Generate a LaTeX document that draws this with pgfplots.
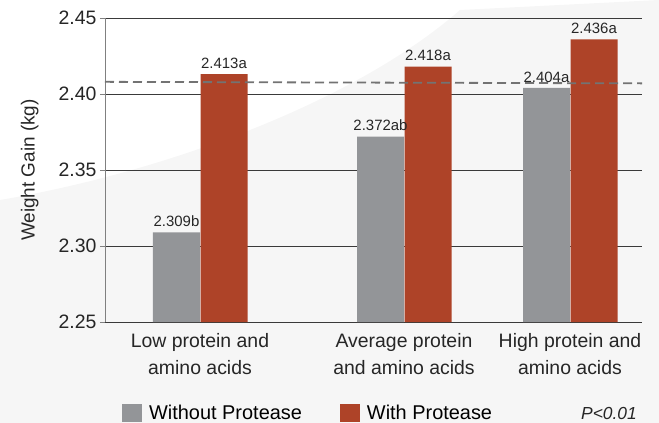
\documentclass[border=0pt]{standalone}
\usepackage{pgfplots}
\pgfplotsset{compat=1.18}
\usepackage{fontspec}
\setmainfont{Liberation Sans}
\definecolor{cgray}{HTML}{939598}
\definecolor{cred}{HTML}{AE4328}
\definecolor{cgrid}{HTML}{3A3A3A}
\definecolor{cbg}{HTML}{F6F6F6}
\begin{document}
\begin{tikzpicture}
\path[use as bounding box] (-105bp,-101bp) rectangle (554bp,322bp);
\fill[cbg] (-105bp,122bp) .. controls (60bp,150bp) and (250bp,220bp) .. (355bp,312bp) -- (554bp,322bp) -- (554bp,-101bp) -- (-105bp,-101bp) -- cycle;
\begin{axis}[
  scale only axis,
  width=537bp, height=304bp,
  xmin=105, xmax=642,
  ymin=2.25, ymax=2.45,
  axis x line*=bottom,
  axis y line*=left,
  x axis line style={draw=cgrid, line width=0.8pt},
  y axis line style={draw=gray, line width=0.8pt},
  ytick={2.25,2.30,2.35,2.40,2.45},
  yticklabel style={/pgf/number format/.cd, fixed, fixed zerofill, precision=2, assume math mode=true},
  ticklabel style={font=\fontsize{19.5}{21}\selectfont, color=black!85},
  tick align=outside,
  ytick style={draw=gray, line width=0.6pt},
  major tick length=5bp,
  ymajorgrids,
  grid style={draw=cgrid, line width=0.7pt},
  xtick={200,404,570},
  xticklabels={{Low protein and\\amino acids},{Average protein\\and amino acids},{High protein and\\amino acids}},
  xticklabel style={align=center, font=\fontsize{19.5}{27}\selectfont, yshift=-3bp},
  x tick style={draw=none},
  ylabel={Weight Gain (kg)},
  ylabel style={font=\fontsize{19}{21}\selectfont, color=black!85, at={(axis description cs:-0.14,0.5)}, anchor=center},
  ybar, bar width=47,
  nodes near coords,
  point meta=explicit symbolic,
  every node near coord/.append style={font=\fontsize{15}{17}\selectfont, color=black!85, yshift=2bp},
  legend style={at={(axis description cs:0.026,-0.300)}, anchor=west, draw=none, fill=none,
    font=\fontsize{20}{22}\selectfont, legend columns=-1,
    /tikz/every odd column/.append style={column sep=5bp},
    /tikz/every even column/.append style={column sep=36bp}},
  legend image code/.code={\fill[#1] (0bp,-9bp) rectangle (20bp,9bp);},
  clip=false,
]
\addplot[fill=cgray, draw=none, bar shift=-23.5] coordinates {(200,2.309) [2.309b] (404,2.372) [2.372ab] (570,2.404) [2.404a]};
\addplot[fill=cred, draw=none, bar shift=24] coordinates {(200,2.413) [2.413a] (404,2.418) [2.418a] (570,2.436) [2.436a]};
\legend{Without Protease, With Protease}
\addplot[sharp plot, no markers, draw=black!55, dash pattern=on 9bp off 5bp, line width=1.8pt, forget plot, nodes near coords={}] coordinates {(105,2.408) (642,2.407)};
\node[font=\itshape\fontsize{17.5}{19}\selectfont, color=black!85, anchor=east] at (axis description cs:0.997,-0.302) {P<0.01};
\end{axis}
\end{tikzpicture}
\end{document}
